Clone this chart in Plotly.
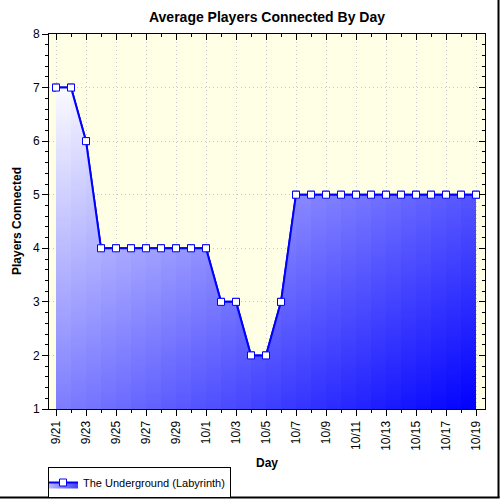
import plotly.graph_objects as go

# ---- data ----
days = ["9/21", "9/22", "9/23", "9/24", "9/25", "9/26", "9/27", "9/28", "9/29", "9/30",
        "10/1", "10/2", "10/3", "10/4", "10/5", "10/6", "10/7", "10/8", "10/9", "10/10",
        "10/11", "10/12", "10/13", "10/14", "10/15", "10/16", "10/17", "10/18", "10/19"]
players = [7, 7, 6, 4, 4, 4, 4, 4, 4, 4,
           4, 3, 3, 2, 2, 3, 5, 5, 5, 5,
           5, 5, 5, 5, 5, 5, 5, 5, 5]
series_name = "The Underground (Labyrinth)"
title = "Average Players Connected By Day"
x_title = "Day"
y_title = "Players Connected"

idx = list(range(len(days)))
n = len(days)
YMIN, YMAX = 1, 8
TOP = max(players)

# plot area in pixels
L, R, T, B = 49, 15, 34, 91
PW = 500 - L - R
PH = 500 - T - B
PXDAY = 15
x0 = -7 / PXDAY
xr = [x0, x0 + PW / PXDAY]


def col(u, v):
    t = (u + v) / 2.0
    c = int(round(252 * (1 - t)))
    return f"rgb({c},{c},255)"


fig = go.Figure()

# base fill (legend entry) with horizontal gradient
fig.add_trace(go.Scatter(
    x=idx, y=players, name=series_name, mode="lines+markers",
    fill="tozeroy",
    fillgradient=dict(type="horizontal", start=0, stop=n - 1,
                      colorscale=[[0, col(0, 0.5)], [1, col(1, 0.5)]]),
    line=dict(color="#0000FF", width=2),
    marker=dict(symbol="square", size=7, color="white", line=dict(color="#0000FF", width=1)),
    hoverinfo="skip",
))

# strips giving the diagonal gradient
for i in range(n - 1):
    u = (i + 0.5) / (n - 1)
    fig.add_trace(go.Scatter(
        x=[idx[i], idx[i + 1]], y=[players[i], players[i + 1]],
        mode="lines", line=dict(width=0), fill="tozeroy",
        fillgradient=dict(type="vertical", start=YMIN, stop=TOP,
                          colorscale=[[0, col(u, 1)], [1, col(u, 0)]]),
        showlegend=False, hoverinfo="skip",
    ))

# line on top
fig.add_trace(go.Scatter(
    x=idx, y=players, mode="lines+markers", showlegend=False,
    line=dict(color="#0000FF", width=2),
    marker=dict(symbol="square", size=7, color="white", line=dict(color="#0000FF", width=1)),
    hovertemplate="%{text}: %{y}<extra></extra>", text=days,
))

# dummy trace for the mirrored axes
fig.add_trace(go.Scatter(x=idx, y=players, xaxis="x2", yaxis="y2", mode="lines",
                         line=dict(width=0), opacity=0, showlegend=False, hoverinfo="skip"))

tickfont = dict(family="Liberation Sans, Arial", size=12, color="black")
tv = idx[::2]
tt = days[::2]
GRID = "#C8C8C8"
GDASH = "1px,3px"

fig.update_layout(
    width=500, height=500,
    margin=dict(l=L, r=R, t=T, b=B, pad=0, autoexpand=False),
    paper_bgcolor="white",
    plot_bgcolor="#FFFFE6",
    font=dict(family="Liberation Sans, Arial", size=12, color="black"),
    title=dict(text=f"<b>{title}</b>", x=(L + PW / 2) / 500, xanchor="center",
               y=1 - 17 / 500, yanchor="middle",
               font=dict(size=14, family="Liberation Sans, Arial", color="black")),
    xaxis=dict(range=xr, tickvals=tv, ticktext=tt, tickangle=-90, tickfont=tickfont,
               showline=True, linecolor="black", linewidth=1, automargin=False,
               ticks="outside", ticklen=6, tickcolor="black",
               minor=dict(dtick=1, ticks="outside", ticklen=3, tickcolor="black", showgrid=False),
               showgrid=True, gridcolor=GRID, griddash=GDASH, gridwidth=1,
               zeroline=False, fixedrange=True),
    yaxis=dict(range=[YMIN, YMAX], dtick=1, tickfont=tickfont, automargin=False,
               showline=True, linecolor="black", linewidth=1,
               ticks="outside", ticklen=6, tickcolor="black",
               minor=dict(dtick=0.2, ticks="outside", ticklen=3, tickcolor="black", showgrid=False),
               showgrid=True, gridcolor=GRID, griddash=GDASH, gridwidth=1,
               zeroline=False, fixedrange=True),
    xaxis2=dict(range=xr, overlaying="x", side="top", anchor="y2", tickvals=tv,
                showticklabels=False, showline=True, linecolor="black", linewidth=1,
                ticks="inside", ticklen=6, tickcolor="black", automargin=False,
                minor=dict(dtick=1, ticks="inside", ticklen=3, tickcolor="black", showgrid=False),
                showgrid=False, zeroline=False, fixedrange=True),
    yaxis2=dict(range=[YMIN, YMAX], overlaying="y", side="right", anchor="x2", dtick=1,
                showticklabels=False, showline=True, linecolor="black", linewidth=1,
                ticks="inside", ticklen=6, tickcolor="black", automargin=False,
                minor=dict(dtick=0.2, ticks="inside", ticklen=3, tickcolor="black", showgrid=False),
                showgrid=False, zeroline=False, fixedrange=True),
    legend=dict(xref="container", yref="container",
                x=48 / 500, y=1 - 467 / 500, xanchor="left", yanchor="top",
                bgcolor="white", bordercolor="black", borderwidth=1,
                font=dict(size=11, family="Liberation Sans, Arial", color="black"),
                itemwidth=30, tracegroupgap=0, indentation=-6),
    showlegend=True,
    annotations=[
        dict(text=f"<b>{x_title}</b>", xref="paper", yref="paper",
             x=0.5, y=(T + PH - 463) / PH, xanchor="center", yanchor="middle",
             showarrow=False, font=dict(size=12, family="Liberation Sans, Arial", color="black")),
        dict(text=f"<b>{y_title}</b>", xref="paper", yref="paper",
             x=(17 - L) / PW, y=(T + PH - 221) / PH, xanchor="center", yanchor="middle",
             textangle=-90, showarrow=False,
             font=dict(size=12, family="Liberation Sans, Arial", color="black")),
    ],
    shapes=[
        dict(type="line", xref="paper", yref="paper",
             x0=(498.5 - L) / PW, x1=(498.5 - L) / PW,
             y0=(T + PH - 0) / PH, y1=(T + PH - 498) / PH,
             line=dict(color="black", width=2)),
        dict(type="line", xref="paper", yref="paper",
             x0=(0 - L) / PW, x1=(499.5 - L) / PW,
             y0=(T + PH - 497.5) / PH, y1=(T + PH - 497.5) / PH,
             line=dict(color="black", width=2)),
    ],
)

fig.write_html("out.html")
